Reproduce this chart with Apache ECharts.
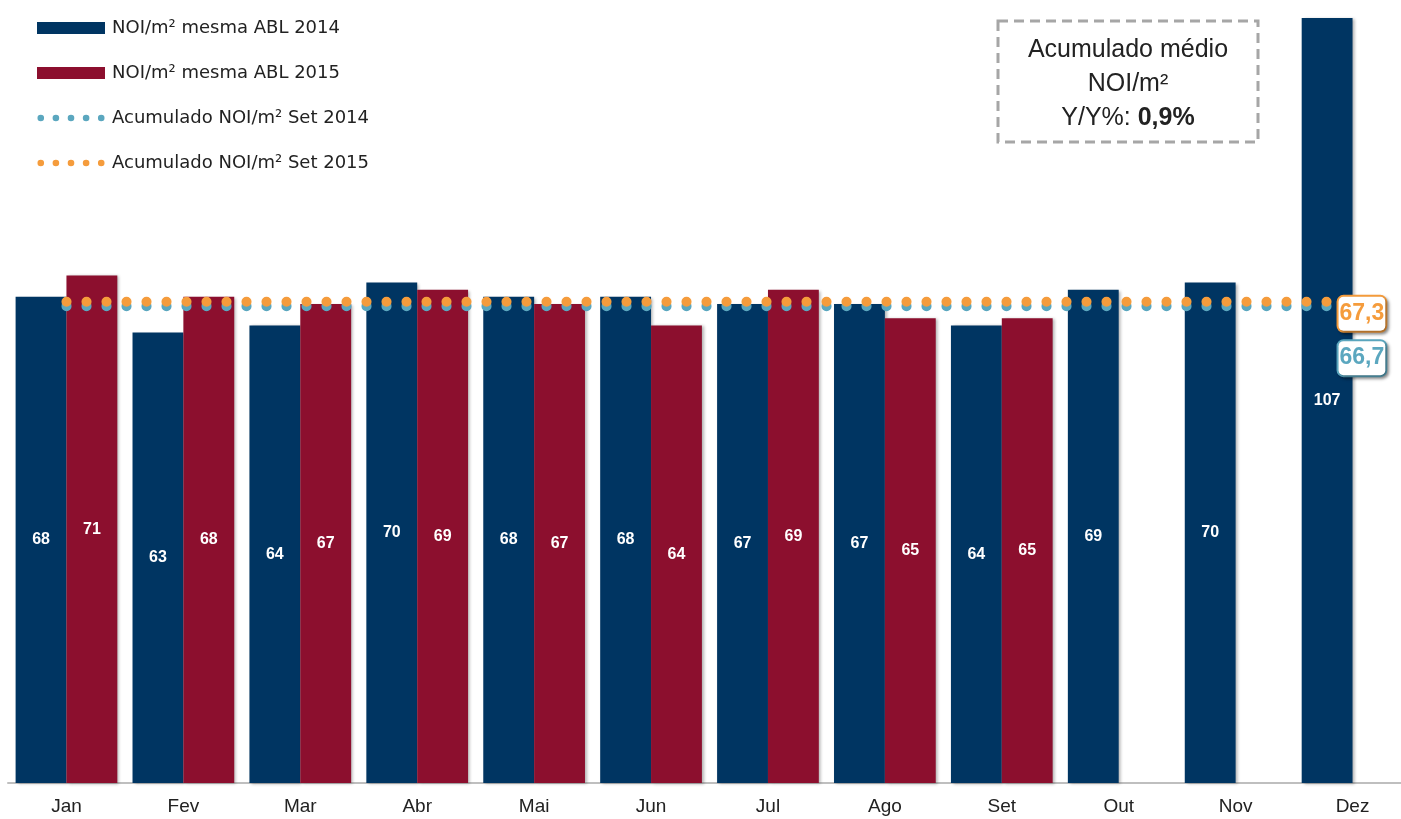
<!DOCTYPE html>
<html>
<head>
<meta charset="utf-8">
<script src="https://cdn.jsdelivr.net/npm/echarts@6/dist/echarts.min.js"></script>
<style>
html, body { margin: 0; padding: 0; background: #fff; }
#main { width: 1401px; height: 819px; }
</style>
</head>
<body>
<div id="main"></div>
<script>
var months = ['Jan', 'Fev', 'Mar', 'Abr', 'Mai', 'Jun', 'Jul', 'Ago', 'Set', 'Out', 'Nov', 'Dez'];
var noi2014 = [68, 63, 64, 70, 68, 68, 67, 67, 64, 69, 70, 107];
var noi2015 = [71, 68, 67, 69, 67, 64, 69, 65, 65, null, null, null];
var acum2014 = [66.7, 66.7, 66.7, 66.7, 66.7, 66.7, 66.7, 66.7, 66.7, 66.7, 66.7, 66.7];
var acum2015 = [67.3, 67.3, 67.3, 67.3, 67.3, 67.3, 67.3, 67.3, 67.3, 67.3, 67.3, 67.3];

var navy = '#003562';
var crimson = '#8C0F2E';
var teal = '#5BA7BF';
var orange = '#F59C3C';
var font = 'Liberation Sans';

// icone de 5 pontos para a legenda
var dotsIcon = 'path://M0,0L0.01,0M72,12L71.99,12' +
	'M0.5,6a3.5,3.5 0 1,0 7,0a3.5,3.5 0 1,0 -7,0' +
	'M16.5,6a3.5,3.5 0 1,0 7,0a3.5,3.5 0 1,0 -7,0' +
	'M32.5,6a3.5,3.5 0 1,0 7,0a3.5,3.5 0 1,0 -7,0' +
	'M48.5,6a3.5,3.5 0 1,0 7,0a3.5,3.5 0 1,0 -7,0' +
	'M64.5,6a3.5,3.5 0 1,0 7,0a3.5,3.5 0 1,0 -7,0';

var barLabel = {
	show: true,
	position: 'inside',
	color: '#fff',
	fontWeight: 'bold',
	fontSize: 16,
	fontFamily: font
};
var barShadow = {
	shadowColor: 'rgba(0,0,0,0.3)',
	shadowBlur: 3,
	shadowOffsetX: 2,
	shadowOffsetY: 1
};

function endLabel(color, text, dy) {
	return {
		show: true,
		formatter: text,
		color: color,
		fontSize: 23,
		fontWeight: 'bold',
		fontFamily: font,
		backgroundColor: '#fff',
		borderColor: color,
		borderWidth: 2,
		borderRadius: 5,
		padding: [6, 1, 5, 1],
		distance: 0,
		offset: [-14, dy],
		shadowColor: 'rgba(0,0,0,0.35)',
		shadowBlur: 3,
		shadowOffsetX: 2,
		shadowOffsetY: 2
	};
}

var option = {
	animation: false,
	textStyle: { fontFamily: font },
	legend: {
		orient: 'vertical',
		left: 37,
		top: 19,
		padding: 0,
		itemWidth: 68,
		itemHeight: 12,
		itemGap: 27,
		textStyle: { fontSize: 18, color: '#222', fontFamily: 'DejaVu Sans', padding: [0, 0, 0, 2] },
		data: [
			{ name: 'NOI/m² mesma ABL 2014', icon: 'rect' },
			{ name: 'NOI/m² mesma ABL 2015', icon: 'rect' },
			{ name: 'Acumulado NOI/m² Set 2014', icon: dotsIcon },
			{ name: 'Acumulado NOI/m² Set 2015', icon: dotsIcon }
		]
	},
	grid: {
		left: 8,
		width: 1403,
		top: 18,
		bottom: 36,
		outerBoundsMode: 'none'
	},
	xAxis: {
		type: 'category',
		data: months,
		axisLine: { lineStyle: { color: '#BFBFBF', width: 2 } },
		axisTick: { show: false },
		axisLabel: { color: '#222', fontSize: 19, margin: 14, fontFamily: font }
	},
	yAxis: {
		type: 'value',
		min: 0,
		max: 107,
		show: false,
		splitLine: { show: false }
	},
	graphic: [{
		type: 'rect',
		shape: { x: 998, y: 21, width: 260, height: 121 },
		style: { fill: 'none', stroke: '#A6A6A6', lineWidth: 3, lineDash: [10, 6] }
	}, {
		type: 'text',
		x: 1128,
		y: 33,
		style: {
			text: 'Acumulado médio\nNOI/m²\n{n|Y/Y%: }{b|0,9%}',
			align: 'center',
			fill: '#222',
			font: '25px "Liberation Sans"',
			lineHeight: 34,
			rich: {
				n: { fontSize: 25, fontFamily: font, lineHeight: 34 },
				b: { fontSize: 25, fontFamily: font, fontWeight: 'bold', lineHeight: 34 }
			}
		}
	}],
	series: [{
		name: 'NOI/m² mesma ABL 2014',
		type: 'bar',
		data: noi2014,
		barGap: '0%',
		barCategoryGap: '13%',
		itemStyle: Object.assign({ color: navy }, barShadow),
		label: barLabel
	}, {
		name: 'NOI/m² mesma ABL 2015',
		type: 'bar',
		data: noi2015,
		itemStyle: Object.assign({ color: crimson }, barShadow),
		label: barLabel
	}, {
		name: 'Acumulado NOI/m² Set 2014',
		type: 'line',
		data: acum2014,
		symbol: 'none',
		itemStyle: { color: teal },
		lineStyle: { color: teal, width: 10, type: [0.1, 19.9], cap: 'round' },
		endLabel: endLabel(teal, '66,7', 52)
	}, {
		name: 'Acumulado NOI/m² Set 2015',
		type: 'line',
		data: acum2015,
		symbol: 'none',
		itemStyle: { color: orange },
		lineStyle: { color: orange, width: 10, type: [0.1, 19.9], cap: 'round' },
		endLabel: endLabel(orange, '67,3', 12)
	}]
};

var chart = echarts.init(document.getElementById('main'));
chart.setOption(option);
</script>
</body>
</html>
